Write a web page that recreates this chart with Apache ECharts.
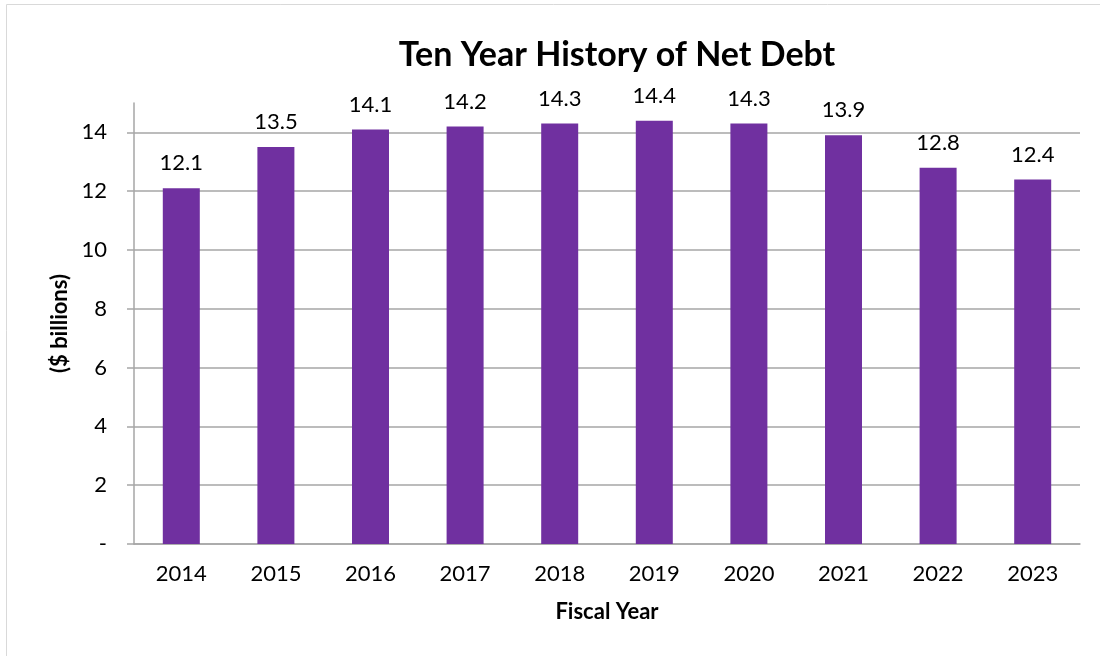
<!DOCTYPE html>
<html>
<head>
<meta charset="utf-8">
<title>Ten Year History of Net Debt</title>
<script src="https://cdn.jsdelivr.net/npm/echarts@6/dist/echarts.min.js"></script>
<style>
  html, body { margin: 0; padding: 0; background: #fff; }
  #chart { width: 1100px; height: 656px; }
</style>
</head>
<body>
<div id="chart"></div>
<script>
// data
var years = ['2014', '2015', '2016', '2017', '2018', '2019', '2020', '2021', '2022', '2023'];
var netDebt = [12.1, 13.5, 14.1, 14.2, 14.3, 14.4, 14.3, 13.9, 12.8, 12.4];
var yTicks = [0, 2, 4, 6, 8, 10, 12, 14];

var font = 'Lato, "Open Sans", sans-serif';
var chart = echarts.init(document.getElementById('chart'));

// gridline colours, last one (top of axis at 15) hidden
var gridColors = yTicks.map(function () { return '#a6a6a6'; });
gridColors.push('rgba(0,0,0,0)');

chart.setOption({
    animation: false,
    textStyle: { fontFamily: font },
    title: {
        text: 'Ten Year History of Net Debt',
        left: 612,
        textAlign: 'center',
        top: 33,
        textStyle: { fontSize: 34, fontWeight: 'bold', color: '#000', fontFamily: font }
    },
    graphic: [{
        type: 'rect',
        shape: { x: 6.5, y: 4.5, width: 1200, height: 800 },
        style: { fill: 'none', stroke: '#d9d9d9', lineWidth: 1 },
        silent: true
    }],
    grid: { left: 134, right: 20, top: 103, bottom: 112 },
    xAxis: {
        type: 'category',
        data: years,
        name: 'Fiscal Year',
        nameLocation: 'middle',
        nameGap: 57,
        nameTextStyle: { fontSize: 22, fontWeight: 'bold', color: '#000' },
        axisLine: { lineStyle: { color: '#a6a6a6', width: 1.5 } },
        axisTick: { show: false },
        axisLabel: { fontSize: 22, color: '#000', margin: 19 }
    },
    yAxis: {
        type: 'value',
        min: 0,
        max: 15,
        interval: 2,
        name: '($ billions)',
        nameLocation: 'middle',
        nameGap: 58,
        nameTextStyle: { fontSize: 22, fontWeight: 'bold', color: '#000' },
        axisLine: { show: true, lineStyle: { color: '#a6a6a6', width: 1.5 } },
        axisTick: { show: true, length: 7, customValues: yTicks, lineStyle: { color: '#a6a6a6', width: 1.5 } },
        splitLine: { show: true, lineStyle: { color: gridColors, width: 1.5 } },
        axisLabel: {
            fontSize: 22,
            color: '#000',
            margin: 27,
            customValues: yTicks,
            formatter: function (v) { return v === 0 ? '-' : String(v); }
        }
    },
    series: [{
        type: 'bar',
        data: netDebt,
        barWidth: 37,
        itemStyle: { color: '#7030A0' },
        label: {
            show: true,
            position: 'top',
            distance: 14,
            fontSize: 22,
            color: '#000',
            formatter: function (p) { return p.value.toFixed(1); }
        }
    }]
});
</script>
</body>
</html>
